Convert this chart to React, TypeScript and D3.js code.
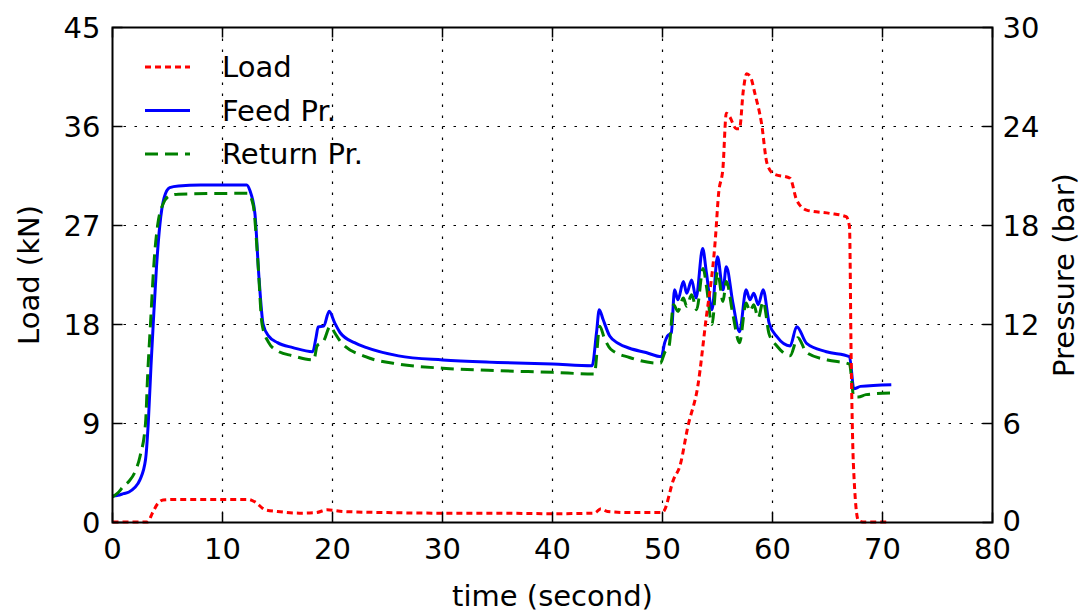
import * as d3 from 'd3'

// time (s) / value pairs
const loadTime = [0, 3.2, 3.6, 4.1, 4.6, 6, 10, 12.3, 12.9, 13.9, 15, 17, 18.5, 19.5, 21, 25, 30, 35, 40, 43.8, 44.4, 45, 47, 49.9, 50.1, 51.0, 51.6, 52.3, 53.25, 53.9, 54.8, 55.1, 55.5, 55.8, 56.1, 56.7, 57.0, 57.35, 57.65, 58.0, 58.4, 59.0, 59.5, 60.1, 61.6, 62.2, 63.1, 65.2, 66.7, 67.0, 67.15, 67.35, 67.8, 68.2, 70.7]
const loadKN = [0.05, 0.05, 0.8, 1.7, 2.05, 2.1, 2.1, 2.1, 1.9, 1.15, 1.0, 0.85, 0.9, 1.15, 1.0, 0.9, 0.85, 0.85, 0.8, 0.85, 1.25, 1.0, 0.9, 0.9, 1.0, 3.9, 5.2, 8.7, 12.65, 18, 25.7, 29.9, 32.3, 37.2, 36.9, 35.8, 35.8, 39.3, 40.8, 40.5, 39.0, 36.3, 32.65, 31.7, 31.3, 29.3, 28.4, 28.1, 27.8, 26.9, 15, 5.4, 0.2, 0.05, 0.05]

const feedTime = [0, 0.5, 1, 1.5, 2, 2.5, 3, 3.25, 3.5, 3.7, 4.0, 4.3, 4.7, 5.2, 6, 8, 10, 12.2, 12.5, 12.95, 13.3, 13.7, 14.2, 15, 16.4, 18.2, 18.5, 18.7, 19.2, 19.7, 20.2, 20.7, 22, 23.1, 26, 30, 35, 40, 43.6, 44.0, 44.25, 44.6, 45.2, 46, 47, 48.5, 49.9, 50.2, 50.45, 50.8, 51.1, 51.4, 51.9, 52.2, 52.65, 53.05, 53.65, 54.0, 54.5, 55.0, 55.5, 55.8, 56.4, 57.0, 57.6, 57.95, 58.3, 58.7, 59.15, 59.7, 60.4, 61.6, 62.2, 63.1, 64.9, 67.0, 67.4, 68, 70.8]
const feedBar = [1.6, 1.65, 1.75, 1.85, 2.1, 2.6, 3.8, 6.0, 9.5, 12, 15.5, 18, 19.7, 20.3, 20.4, 20.45, 20.45, 20.45, 20.1, 18.7, 15, 12, 11.3, 10.9, 10.6, 10.35, 11.2, 11.85, 11.9, 12.8, 12.1, 11.5, 10.9, 10.6, 10.1, 9.85, 9.7, 9.6, 9.5, 11.5, 12.9, 12.3, 11.3, 10.85, 10.56, 10.3, 10.05, 10.9, 11.3, 11.5, 14.1, 13.5, 14.6, 13.9, 14.7, 13.6, 16.6, 15.1, 12.9, 16.1, 14.1, 15.5, 13.3, 11.56, 14.1, 13.5, 13.9, 13.2, 14.1, 12.07, 11.26, 10.7, 11.87, 10.86, 10.35, 10.05, 8.1, 8.25, 8.35]

const returnTime = [0, 0.5, 1, 1.5, 2, 2.5, 3.0, 3.2, 3.45, 3.8, 4.1, 4.6, 5.2, 6, 12.3, 12.8, 13.2, 13.6, 14.2, 15, 16.4, 18.3, 18.6, 19.2, 19.8, 20.2, 20.8, 23, 26, 30, 35, 40, 43.8, 44.3, 44.7, 45.3, 47, 49.8, 50.2, 50.6, 51.0, 51.4, 51.9, 52.2, 52.65, 53.1, 53.7, 54.0, 54.5, 55.0, 55.5, 55.8, 56.4, 57.0, 57.6, 57.95, 58.3, 58.7, 59.15, 59.7, 60.4, 61.6, 62.3, 63.1, 65, 67.0, 67.4, 67.8, 68.5, 70.8]
const returnBar = [1.55, 1.8, 2.2, 2.5, 3.0, 4.0, 6.0, 9, 12, 16, 18, 19.3, 19.8, 19.9, 19.95, 19.2, 16, 12, 10.9, 10.4, 10.1, 9.85, 10.7, 11.0, 11.9, 11.5, 10.9, 10.05, 9.6, 9.35, 9.2, 9.1, 9.0, 11.9, 11.2, 10.5, 10.0, 9.65, 10.3, 10.7, 13.2, 12.8, 13.6, 13.1, 13.8, 12.9, 15.4, 14.3, 12.0, 15.2, 13.4, 14.6, 12.6, 10.9, 13.3, 12.8, 13.2, 12.4, 13.4, 11.4, 10.7, 10.1, 11.2, 10.3, 9.85, 9.6, 7.6, 7.6, 7.75, 7.85]

const xTicks = [0, 10, 20, 30, 40, 50, 60, 70, 80]
const loadTicks = [0, 9, 18, 27, 36, 45]
const pressureTicks = [0, 6, 12, 18, 24, 30]

const legendItems = [
  { label: 'Load', color: '#ff0000', dash: '6,4' },
  { label: 'Feed Pr.', color: '#0000ff', dash: null },
  { label: 'Return Pr.', color: 'green', dash: '13,7' },
]

const W = 1086
const H = 615
const margin = { left: 112.5, right: 93.5, top: 27.5, bottom: 92.5 }
const FONT = 'DejaVu Sans, sans-serif'

export default function App() {
  const left = margin.left
  const right = W - margin.right
  const top = margin.top
  const bottom = H - margin.bottom

  const x = d3.scaleLinear().domain([0, 80]).range([left, right])
  const yLoad = d3.scaleLinear().domain([0, 45]).range([bottom, top])
  const yPr = d3.scaleLinear().domain([0, 30]).range([bottom, top])

  const toPts = (ts: number[], vs: number[]) => ts.map((t, i) => [t, vs[i]] as [number, number])

  const loadLine = d3.line<[number, number]>()
    .x(d => x(d[0]))
    .y(d => yLoad(d[1]))
    .curve(d3.curveMonotoneX)
  const prLine = d3.line<[number, number]>()
    .x(d => x(d[0]))
    .y(d => yPr(d[1]))
    .curve(d3.curveMonotoneX)

  const tickLen = 10
  const fs = 29

  return (
    <div style={{ position: 'absolute', left: 0, top: 0 }}>
      <svg width={W} height={H} style={{ display: 'block', background: '#fff' }} fontFamily={FONT}>
        {/* grid */}
        <g stroke="#000" strokeWidth={1.2} strokeDasharray="2.5,8.5">
          {xTicks.slice(1, -1).map(t => (
            <line key={'gx' + t} x1={x(t)} x2={x(t)} y1={top} y2={bottom} />
          ))}
          {loadTicks.slice(1, -1).map(t => (
            <line key={'gy' + t} x1={left} x2={right} y1={yLoad(t)} y2={yLoad(t)} />
          ))}
        </g>

        {/* series */}
        <path d={prLine(toPts(feedTime, feedBar)) || ''} fill="none" stroke="#0000ff" strokeWidth={3} strokeLinejoin="round" />
        <path d={prLine(toPts(returnTime, returnBar)) || ''} fill="none" stroke="green" strokeWidth={3} strokeDasharray="13,7" />
        <path d={loadLine(toPts(loadTime, loadKN)) || ''} fill="none" stroke="#ff0000" strokeWidth={3} strokeDasharray="6,4" />

        {/* ticks */}
        <g stroke="#000" strokeWidth={1.5}>
          {xTicks.map(t => (
            <g key={'tx' + t}>
              <line x1={x(t)} x2={x(t)} y1={bottom} y2={bottom - tickLen} />
              <line x1={x(t)} x2={x(t)} y1={top} y2={top + tickLen} />
            </g>
          ))}
          {loadTicks.map(t => (
            <line key={'tl' + t} x1={left} x2={left + tickLen} y1={yLoad(t)} y2={yLoad(t)} />
          ))}
          {pressureTicks.map(t => (
            <line key={'tr' + t} x1={right} x2={right - tickLen} y1={yPr(t)} y2={yPr(t)} />
          ))}
        </g>

        {/* frame */}
        <rect x={left} y={top} width={right - left} height={bottom - top} fill="none" stroke="#000" strokeWidth={2} />

        {/* tick labels */}
        <g fontSize={fs} fill="#000">
          {xTicks.map(t => (
            <text key={'lx' + t} x={x(t)} y={bottom + 36} textAnchor="middle">{t}</text>
          ))}
          {loadTicks.map(t => (
            <text key={'ll' + t} x={left - 12} y={yLoad(t)} dy="0.36em" textAnchor="end">{t}</text>
          ))}
          {pressureTicks.map(t => (
            <text key={'lr' + t} x={right + 10} y={t === 0 ? yPr(t) - 2 : yPr(t)} dy="0.36em" textAnchor="start">{t}</text>
          ))}
        </g>

        {/* axis labels */}
        <text x={(left + right) / 2} y={606} fontSize={fs} textAnchor="middle">time (second)</text>
        <text transform={`translate(39,${(top + bottom) / 2}) rotate(-90)`} fontSize={fs} textAnchor="middle">Load (kN)</text>
        <text transform={`translate(1074,${(top + bottom) / 2}) rotate(-90)`} fontSize={fs} textAnchor="middle">Pressure (bar)</text>

        {/* legend */}
        {legendItems.map((d, i) => {
          const ly = 67 + i * 43.5
          return (
            <g key={d.label}>
              <line x1={145} x2={190} y1={ly} y2={ly} stroke={d.color} strokeWidth={3} strokeDasharray={d.dash || undefined} />
              <text x={222} y={ly} dy="0.36em" fontSize={fs}>{d.label}</text>
            </g>
          )
        })}
      </svg>
    </div>
  )
}
